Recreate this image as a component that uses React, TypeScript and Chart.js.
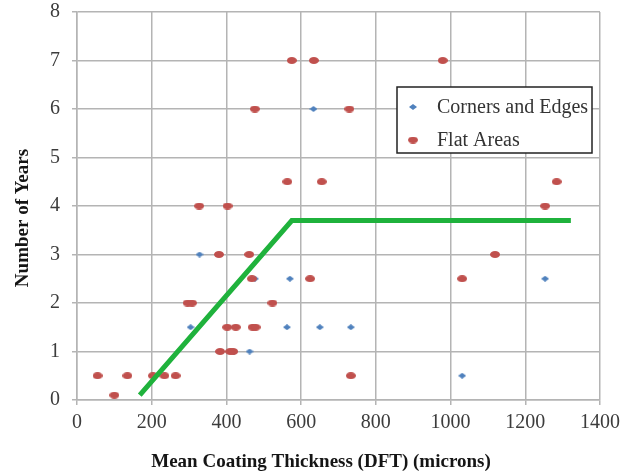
import React, { useEffect, useRef } from "react";
import { Chart, registerables } from "chart.js";

Chart.register(...registerables);

// ---- Data ----
const seriesLabels = ["Corners and Edges", "Flat Areas"];

const cornersX = [328, 304, 420, 462, 476, 570, 562, 650, 733, 1031, 1253, 633];
const cornersY = [3, 1.5, 1, 1, 2.5, 2.5, 1.5, 1.5, 1.5, 0.5, 2.5, 6];

const flatX = [
  55, 100, 135, 203, 234, 264, 296, 308, 380, 461, 468, 523, 402, 425, 470, 478,
  383, 410, 418, 624, 733, 1031, 1119, 575, 634, 979, 476, 729, 563, 655, 1284,
  1253, 327, 403,
];
const flatY = [
  0.5, 0.1, 0.5, 0.5, 0.5, 0.5, 2, 2, 3, 3, 2.5, 2, 1.5, 1.5, 1.5, 1.5, 1, 1, 1,
  2.5, 0.5, 2.5, 3, 7, 7, 7, 6, 6, 4.5, 4.5, 4.5, 4, 4, 4,
];

const fitX = [168, 575, 1322];
const fitY = [0.1, 3.7, 3.7];

const xTicks = [0, 200, 400, 600, 800, 1000, 1200, 1400];
const yTicks = [0, 1, 2, 3, 4, 5, 6, 7, 8];

const xTitle = "Mean Coating Thickness (DFT) (microns)";
const yTitle = "Number of Years";

// ---- Styles ----
const BLUE = "#4f81bd";
const RED = "#c0504d";
const GREEN = "#1fb23c";
const SERIF = "'Liberation Serif', 'Times New Roman', serif";

function makeEllipse(w: number, h: number, color: string) {
  const c = document.createElement("canvas");
  c.width = w;
  c.height = h;
  const ctx = c.getContext("2d")!;
  ctx.fillStyle = color;
  ctx.beginPath();
  ctx.ellipse(w / 2, h / 2, w / 2, h / 2, 0, 0, Math.PI * 2);
  ctx.fill();
  return c;
}

function makeDiamond(w: number, h: number, color: string) {
  const c = document.createElement("canvas");
  c.width = w;
  c.height = h;
  const ctx = c.getContext("2d")!;
  ctx.fillStyle = color;
  ctx.beginPath();
  ctx.moveTo(w / 2, 0);
  ctx.lineTo(w, h / 2);
  ctx.lineTo(w / 2, h);
  ctx.lineTo(0, h / 2);
  ctx.closePath();
  ctx.fill();
  return c;
}

export default function App() {
  const ref = useRef<HTMLCanvasElement | null>(null);

  useEffect(() => {
    if (!ref.current) return;
    const redImg = makeEllipse(10, 7, RED);
    const blueImg = makeDiamond(8, 6, BLUE);

    const overlay = {
      id: "overlay",
      afterDraw(chart: any) {
        const ctx = chart.ctx as CanvasRenderingContext2D;
        ctx.save();
        // axis titles
        ctx.fillStyle = "#151515";
        ctx.font = `bold 19px ${SERIF}`;
        ctx.textAlign = "center";
        ctx.textBaseline = "middle";
        ctx.fillText(xTitle, 321, 462);
        ctx.save();
        ctx.translate(23, 218);
        ctx.rotate(-Math.PI / 2);
        ctx.fillText(yTitle, 0, 0);
        ctx.restore();

        // legend
        ctx.fillStyle = "#ffffff";
        ctx.fillRect(397, 87, 195, 66);
        ctx.strokeStyle = "#222222";
        ctx.lineWidth = 1.5;
        ctx.strokeRect(397, 87, 195, 66);
        const imgs = [blueImg, redImg];
        const ys = [107, 140];
        ctx.font = `20px ${SERIF}`;
        ctx.textAlign = "left";
        ctx.fillStyle = "#333333";
        seriesLabels.forEach((lab, i) => {
          const im = imgs[i];
          ctx.drawImage(im, 413 - im.width / 2, ys[i] - im.height / 2);
          ctx.fillText(lab, 437, ys[i] + 1);
        });
        ctx.restore();
      },
    };

    const chart = new Chart(ref.current, {
      type: "scatter",
      data: {
        datasets: [
          {
            type: "line",
            label: "fit",
            data: fitX.map((x, i) => ({ x, y: fitY[i] })),
            borderColor: GREEN,
            borderWidth: 5,
            pointRadius: 0,
            fill: false,
            tension: 0,
            order: 0,
          } as any,
          {
            label: seriesLabels[1],
            data: flatX.map((x, i) => ({ x, y: flatY[i] })),
            pointStyle: redImg,
            backgroundColor: RED,
            order: 1,
          } as any,
          {
            label: seriesLabels[0],
            data: cornersX.map((x, i) => ({ x, y: cornersY[i] })),
            pointStyle: blueImg,
            backgroundColor: BLUE,
            order: 2,
          } as any,
        ],
      },
      options: {
        responsive: false,
        animation: false,
        layout: { padding: { left: 0, right: 28, top: 12, bottom: 0 } },
        plugins: {
          legend: { display: false },
          tooltip: { enabled: false },
        },
        scales: {
          x: {
            type: "linear",
            min: 0,
            max: 1400,
            afterBuildTicks: (s: any) => {
              s.ticks = xTicks.map((v) => ({ value: v }));
            },
            afterFit: (s: any) => {
              s.height = 76;
              s.paddingLeft = 0;
              s.paddingRight = 0;
            },
            ticks: {
              padding: 6,
              color: "#3c3c3c",
              font: { family: SERIF, size: 20 },
              callback: (v: any) => String(v),
            },
            grid: { color: "#b4b4b4", lineWidth: 1.5, tickLength: 5 },
            border: { color: "#b4b4b4", width: 1.5 },
          },
          y: {
            type: "linear",
            min: 0,
            max: 8,
            afterBuildTicks: (s: any) => {
              s.ticks = yTicks.map((v) => ({ value: v }));
            },
            afterFit: (s: any) => {
              s.width = 77;
              s.paddingTop = 0;
              s.paddingBottom = 0;
            },
            ticks: {
              padding: 12,
              color: "#3c3c3c",
              font: { family: SERIF, size: 20 },
              callback: (v: any) => String(v),
            },
            grid: { color: "#b4b4b4", lineWidth: 1.5, tickLength: 5 },
            border: { color: "#b4b4b4", width: 1.5 },
          },
        },
      },
      plugins: [overlay],
    } as any);

    return () => chart.destroy();
  }, []);

  return (
    <div style={{ position: "fixed", left: 0, top: 0, width: 628, height: 476, background: "#fff" }}>
      <canvas ref={ref} width={628} height={476} />
    </div>
  );
}
